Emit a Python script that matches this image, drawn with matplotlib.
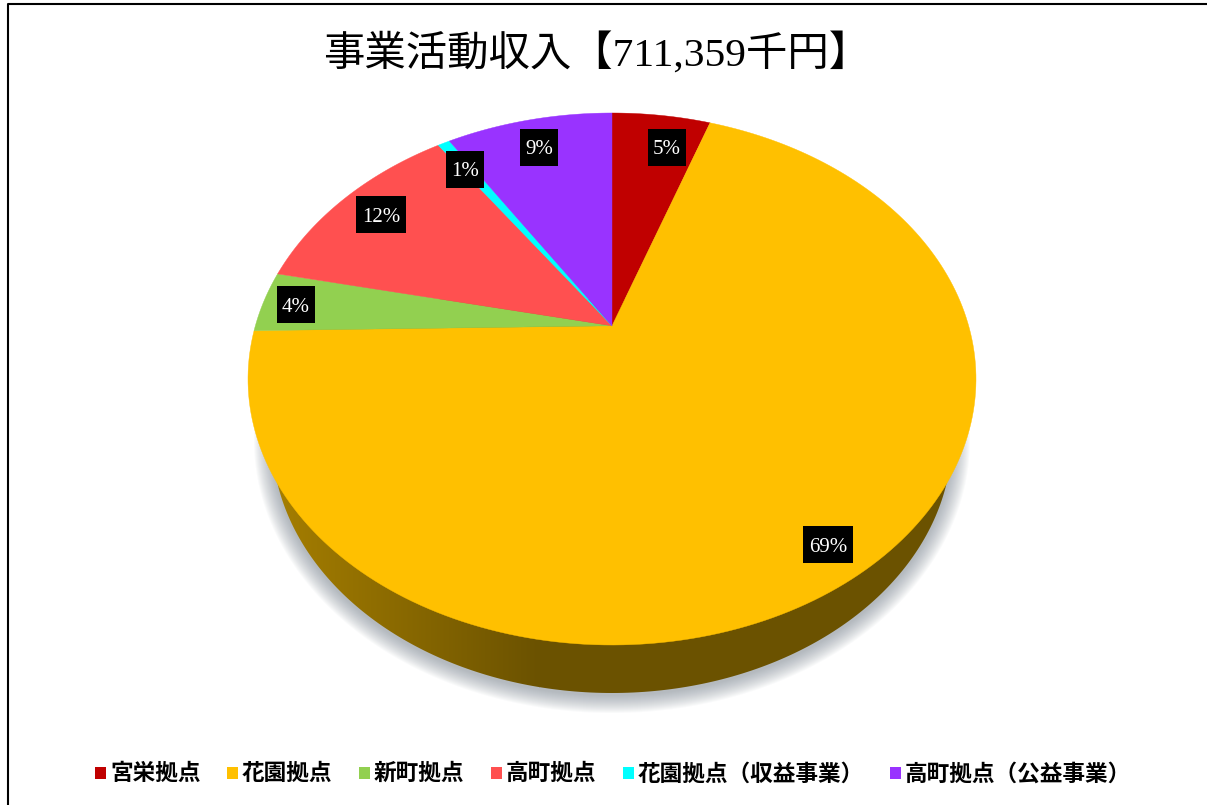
import numpy as np
import matplotlib
matplotlib.use('Agg')
import matplotlib.pyplot as plt
from matplotlib.patches import Polygon, Rectangle

plt.rcParams['font.family'] = ['Liberation Serif', 'Noto Sans CJK JP', 'DejaVu Sans']

# データ
titulo = '事業活動収入【711,359千円】'
categorias = ['宮栄拠点', '花園拠点', '新町拠点', '高町拠点', '花園拠点（収益事業）', '高町拠点（公益事業）']
valores = [5.3, 69.4, 3.7, 12.0, 0.65, 8.95]
colores = ['#C00000', '#FFC000', '#92D050', '#FF5050', '#00FFFF', '#9933FF']

# レイアウト（ピクセル）
pos_etiquetas = [(667, 148), (828, 545), (296, 305), (381, 215), (465, 170), (539, 148)]
ley_x = [95, 227, 359, 491, 623, 890]
ley_y = 774.5
cx, cy, rx, ry = 612, 379, 364, 266
cx2, cy2, rx2, ry2 = 612, 438, 340, 255
a = 0.2  # 頂点のずれ（遠近）

fig = plt.figure(figsize=(12.07, 8.05), dpi=100)
ax = fig.add_axes([0, 0, 1, 1])
ax.set_xlim(0, 1207)
ax.set_ylim(805, 0)
ax.axis('off')


def proyectar(t):
    # 単位円 -> 楕円 (t は12時から時計回りのラジアン)
    x, y = np.sin(t), np.cos(t)
    d = 1 + a * y
    return cx + rx * x * np.sqrt(1 - a ** 2) / d, cy - ry * (y + a) / d


# 影
t = np.linspace(0, 2 * np.pi, 400)
for i in range(18):
    g = 18 - i
    ax.add_patch(Polygon(np.c_[cx2 + (rx2 + g) * np.sin(t), cy2 + 2 + (ry2 + g) * np.cos(t)],
                         fc='#6f7a88', ec='none', alpha=0.035, zorder=1))

# 側面
base = Polygon(np.c_[cx2 + rx2 * np.sin(t), cy2 + ry2 * np.cos(t)], fc='none', ec='none')
ax.add_patch(base)
grad = np.linspace(0, 1, 300).reshape(1, -1)
c1 = np.array([0xA8, 0x80, 0x00]) / 255
c2 = np.array([0x6B, 0x52, 0x00]) / 255
rgb = c1[None, None, :] + (c2 - c1)[None, None, :] * grad[:, :, None]
im = ax.imshow(rgb, extent=[262, 540, 700, 300], aspect='auto', zorder=2)
im.set_clip_path(base)
im2 = ax.imshow(c2[None, None, :], extent=[539, 980, 700, 300], aspect='auto', zorder=2)
im2.set_clip_path(base)
ax.set_xlim(0, 1207)
ax.set_ylim(805, 0)

# 扇形
acum = 0
total = sum(valores)
for v, c in zip(valores, colores):
    t0 = acum / total * 2 * np.pi
    acum += v
    t1 = acum / total * 2 * np.pi
    ts = np.linspace(t0, t1, 200)
    xs, ys = proyectar(ts)
    xa, ya = cx, cy - ry * a
    ax.add_patch(Polygon(np.r_[[[xa, ya]], np.c_[xs, ys]], fc=c, ec=c, lw=0.3, zorder=3))

# ラベル
for v, (x, y) in zip(valores, pos_etiquetas):
    ancho = 50 if v >= 10 else 38
    ax.add_patch(Rectangle((x - ancho / 2, y - 19), ancho, 37, fc='black', ec='none', zorder=4))
    ax.text(x, y + 2, f'{v / total * 100:.0f}%', color='white', fontsize=15, ha='center', va='center', zorder=5)

ax.text(597, 54, titulo, fontsize=29.8, ha='center', va='center', color='black')

# 凡例
for n, c, x in zip(categorias, colores, ley_x):
    ax.add_patch(Rectangle((x, 767), 11, 12, fc=c, ec='none'))
    ax.text(x + 15, ley_y, n, fontsize=16.3, fontweight='bold', ha='left', va='center', color='black')

# 枠
ax.plot([7.5, 7.5, 1207], [805, 4.5, 4.5], color='black', lw=1.5)

fig.savefig('out.png', dpi=100)
